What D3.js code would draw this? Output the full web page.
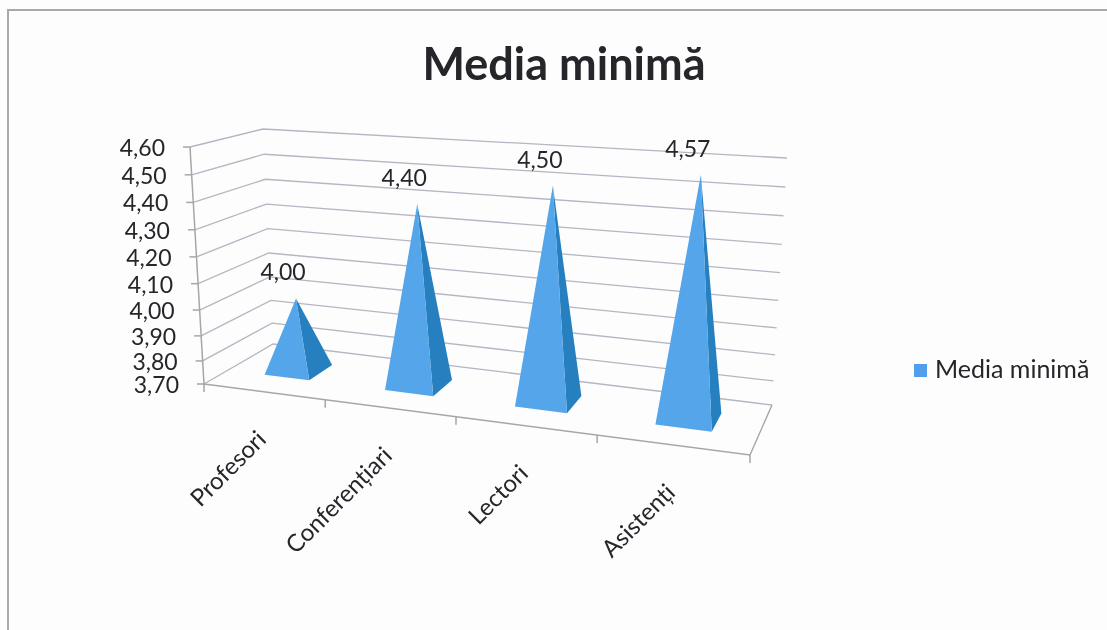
<!DOCTYPE html>
<html>
<head>
<meta charset="utf-8">
<script src="https://cdnjs.cloudflare.com/ajax/libs/d3/7.8.5/d3.min.js"></script>
<style>
html,body{margin:0;padding:0;background:#fdfdfd;overflow:hidden}
text{font-family:Lato,"Open Sans",sans-serif;fill:#26262a}
</style>
</head>
<body>
<svg id="c" width="1107" height="630"></svg>
<script>
const categories = ["Profesori","Conferențiari","Lectori","Asistenți"];
const seriesName = "Media minimă";
const values = [4.00,4.40,4.50,4.57];
const yTicks = [3.7,3.8,3.9,4.0,4.1,4.2,4.3,4.4,4.5,4.6];

const svg = d3.select("#c");
const defs = svg.append("defs");
defs.append("filter").attr("id","soft").attr("x","-5%").attr("y","-5%").attr("width","110%").attr("height","110%")
  .append("feGaussianBlur").attr("stdDeviation",0.55);
const root = svg.append("g").attr("filter","url(#soft)");
const fmt = d3.formatLocale({decimal:",",thousands:".",grouping:[3],currency:["","" ]}).format(".2f");

// projected box corners: floor and ceiling, front and back
const floor = {fl:[204,384],fr:[750,455],bl:[273,344],br:[772,405]};
const ceil  = {fl:[190,147],fr:[768,185],bl:[263,129],br:[787,158]};
const hNorm = d3.scaleLinear().domain([3.7,4.6]).range([0,1]);
const hPersp = d3.scalePow().exponent(1.06).domain([0,1]).range([0,1]);
const h = v => hPersp(hNorm(v));
// perspective spacing along the category axis
const u = d3.scaleLinear().domain(d3.range(categories.length+1)).range([0,.222,.4615,.72,1]);
const mix = (a,b,t)=>[a[0]+(b[0]-a[0])*t,a[1]+(b[1]-a[1])*t];
function plane(p,c,d){return mix(mix(p.fl,p.fr,u(c)),mix(p.bl,p.br,u(c)),d);}
function project(c,d,v){return mix(plane(floor,c,d),plane(ceil,c,d),h(v));}

// frame
const frame = d3.line();
root.append("path").attr("d",frame([[1107,10],[8,10],[8,630]]))
  .attr("fill","none").attr("stroke","#a9a9ab").attr("stroke-width",2);

// title
root.append("text").attr("x",564).attr("y",80).attr("text-anchor","middle")
  .attr("font-size",45).attr("font-weight",700).text(seriesName);

const grid="#b4b6c2", axis="#a6a6a8";
const n=categories.length, vMin=yTicks[0];
// gridlines
root.append("g").selectAll("path").data(yTicks).join("path")
  .attr("d",v=>frame([project(0,0,v),project(0,1,v),project(n,1,v)]))
  .attr("fill","none").attr("stroke",grid).attr("stroke-width",1.3);
// y axis
root.append("path").attr("d",frame([project(0,0,yTicks[0]),project(0,0,yTicks[yTicks.length-1])]))
  .attr("fill","none").attr("stroke",axis).attr("stroke-width",1.5);
root.append("g").selectAll("path").data(yTicks).join("path")
  .attr("d",v=>{const p=project(0,0,v);return frame([[p[0]-7,p[1]],p]);})
  .attr("stroke",axis).attr("stroke-width",1.5);
root.append("g").selectAll("text").data(yTicks).join("text")
  .attr("x",v=>project(0,0,v)[0]-25)
  .attr("y",v=>project(0,0,v)[1]+9)
  .attr("text-anchor","end").attr("font-size",23).text(fmt);
// floor front edges
root.append("path").attr("d",frame([project(0,0,vMin),project(n,0,vMin),project(n,1,vMin)]))
  .attr("fill","none").attr("stroke",axis).attr("stroke-width",1.4);
root.append("g").selectAll("path").data(d3.range(n+1)).join("path")
  .attr("d",c=>{const p=project(c,0,vMin);return frame([p,[p[0],p[1]+8]]);})
  .attr("stroke",axis).attr("stroke-width",1.5);

// pyramids
const hw=.19, dFront=.35, dBack=.72;
const marks = categories.map((name,i)=>{
  const c=i+.5;
  return {name,v:values[i],c,
    fl:project(c-hw,dFront,vMin),fr:project(c+hw,dFront,vMin),br:project(c+hw,dBack,vMin),
    apex:project(c,(dFront+dBack)/2,values[i])};
});
const closed=d3.line().curve(d3.curveLinearClosed);
const g=root.append("g").selectAll("g").data(marks).join("g");
g.append("path").attr("d",d=>closed([d.fr,d.br,d.apex])).attr("fill","#2880bf");
g.append("path").attr("d",d=>closed([d.fl,d.fr,d.apex])).attr("fill","#54a5ea");
g.append("text").attr("x",d=>d.apex[0]-13).attr("y",d=>d.apex[1]-18)
  .attr("text-anchor","middle").attr("font-size",23).text(d=>fmt(d.v));

// category labels
root.append("g").selectAll("text").data(categories).join("text")
  .attr("transform",(d,i)=>{const p=project(i+.5,0,vMin);return `translate(${p[0]+3},${p[1]+49}) rotate(-45)`;})
  .attr("text-anchor","end").attr("font-size",24).text(d=>d);

// legend
root.append("rect").attr("x",914).attr("y",364).attr("width",13).attr("height",13).attr("fill","#4f9fec");
root.append("text").attr("x",935).attr("y",378).attr("font-size",25).text(seriesName);
</script>
</body>
</html>
